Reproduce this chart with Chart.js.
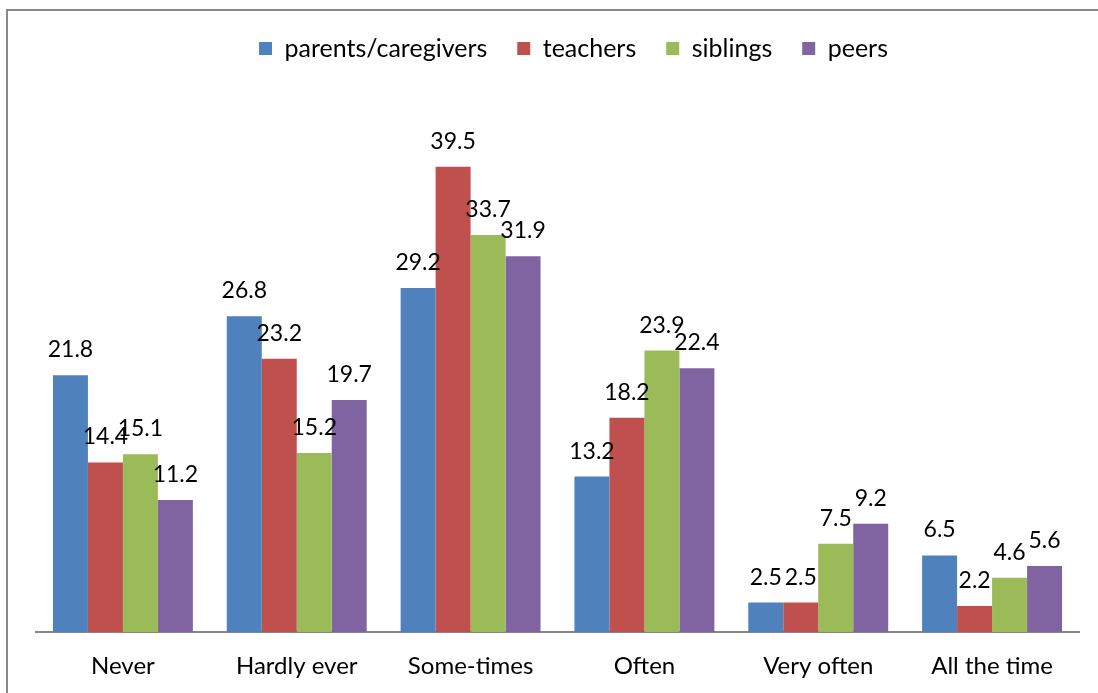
<!DOCTYPE html>
<html>
<head>
<meta charset="utf-8">
<script src="https://cdn.jsdelivr.net/npm/chart.js@4.4.0/dist/chart.umd.min.js"></script>
<style>
  html, body { margin: 0; padding: 0; background: #fff; }
  #wrap { width: 1098px; height: 693px; }
</style>
</head>
<body>
<div id="wrap"><canvas id="freqChart"></canvas></div>
<script>
// categories and series
const categories = ['Never', 'Hardly ever', 'Some-times', 'Often', 'Very often', 'All the time'];
const parentsVals = [21.8, 26.8, 29.2, 13.2, 2.5, 6.5];
const teachersVals = [14.4, 23.2, 39.5, 18.2, 2.5, 2.2];
const siblingsVals = [15.1, 15.2, 33.7, 23.9, 7.5, 4.6];
const peersVals = [11.2, 19.7, 31.9, 22.4, 9.2, 5.6];

const FONT = 'Lato';

// value labels above each bar
const barLabels = {
    id: 'barLabels',
    afterDatasetsDraw(chart) {
        const ctx = chart.ctx;
        ctx.save();
        ctx.font = '23px ' + FONT;
        ctx.fillStyle = '#000';
        ctx.textAlign = 'center';
        ctx.textBaseline = 'alphabetic';
        chart.data.datasets.forEach((ds, i) => {
            chart.getDatasetMeta(i).data.forEach((bar, j) => {
                ctx.fillText(ds.data[j].toFixed(1), bar.x, bar.y - 18);
            });
        });
        ctx.restore();
    }
};

// outer frame of the chart object
const frame = {
    id: 'frame',
    beforeDraw(chart) {
        const ctx = chart.ctx;
        ctx.save();
        ctx.strokeStyle = '#898989';
        ctx.lineWidth = 2;
        ctx.strokeRect(7, 10, 1300, 900);
        ctx.restore();
    }
};

// extra room between legend and plot area, legend nudged right
const legendGap = {
    id: 'legendGap',
    beforeInit(chart) {
        const fit = chart.legend.fit;
        chart.legend.fit = function () {
            fit.bind(chart.legend)();
            this.height += 31;
        };
    },
    afterLayout(chart) {
        chart.legend.left += 16;
        chart.legend.right += 16;
    }
};

new Chart(document.getElementById('freqChart'), {
    type: 'bar',
    data: {
        labels: categories,
        datasets: [
            { label: 'parents/caregivers', data: parentsVals, backgroundColor: '#4F81BD' },
            { label: 'teachers', data: teachersVals, backgroundColor: '#C0504D' },
            { label: 'siblings', data: siblingsVals, backgroundColor: '#9BBB59' },
            { label: 'peers', data: peersVals, backgroundColor: '#8064A2' }
        ]
    },
    options: {
        responsive: true,
        maintainAspectRatio: false,
        animation: false,
        layout: { padding: { left: 36, right: 19, top: 6, bottom: 0 } },
        datasets: { bar: { categoryPercentage: 0.805, barPercentage: 1.0 } },
        plugins: {
            tooltip: { enabled: false },
            legend: {
                position: 'top',
                labels: {
                    color: '#000',
                    font: { family: FONT, size: 25 },
                    boxWidth: 13,
                    boxHeight: 13,
                    padding: 30
                }
            }
        },
        scales: {
            y: { display: false, min: 0, max: 45 },
            x: {
                grid: { display: false, drawTicks: false },
                border: { color: '#868686', width: 2 },
                ticks: { color: '#000', font: { family: FONT, size: 24 }, padding: 20 },
                afterFit(scale) { scale.height = 61; }
            }
        }
    },
    plugins: [barLabels, frame, legendGap]
});
</script>
</body>
</html>
